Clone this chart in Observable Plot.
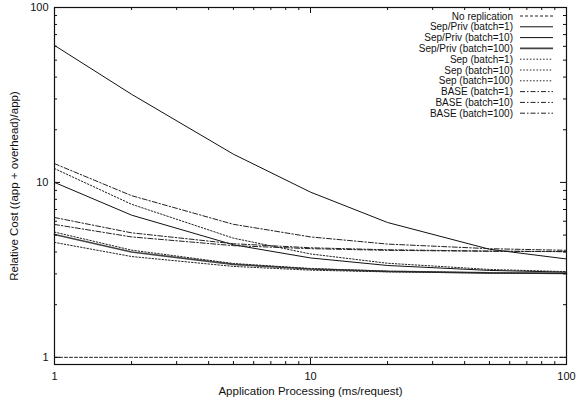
<!DOCTYPE html>
<html><head><meta charset="utf-8">
<script src="https://cdn.jsdelivr.net/npm/d3@7"></script>
<script src="https://cdn.jsdelivr.net/npm/@observablehq/plot@0.6"></script>
<style>
body{margin:0;background:#fff;}
#wrap{position:relative;width:585px;height:403px;font-family:"Liberation Sans",Arial,Helvetica,sans-serif;}
#wrap svg{display:block;}
#legend{position:absolute;left:0;top:0;pointer-events:none;}
</style></head><body><div id="wrap"></div>
<script>
// ---- data ----
const xValues = [1, 2, 5, 10, 20, 50, 100];
const seriesNames = [
  "No replication",
  "Sep/Priv (batch=1)", "Sep/Priv (batch=10)", "Sep/Priv (batch=100)",
  "Sep (batch=1)", "Sep (batch=10)", "Sep (batch=100)",
  "BASE (batch=1)", "BASE (batch=10)", "BASE (batch=100)"
];
const noReplication = [1, 1, 1, 1, 1, 1, 1];
const sepPriv1   = [60.7, 31.9, 14.5, 8.8, 5.9, 4.15, 3.65];
const sepPriv10  = [10.0, 6.5, 4.4, 3.7, 3.35, 3.14, 3.07];
const sepPriv100 = [5.04, 4.0, 3.4, 3.2, 3.1, 3.04, 3.02];
const sep1   = [12.0, 7.5, 4.8, 3.9, 3.45, 3.18, 3.09];
const sep10  = [5.2, 4.1, 3.44, 3.22, 3.11, 3.04, 3.02];
const sep100 = [4.54, 3.77, 3.31, 3.15, 3.08, 3.03, 3.02];
const base1   = [12.8, 8.4, 5.76, 4.88, 4.44, 4.18, 4.09];
const base10  = [6.3, 5.15, 4.46, 4.23, 4.12, 4.05, 4.02];
const base100 = [5.75, 4.88, 4.35, 4.18, 4.09, 4.04, 4.02];
const seriesValues = [noReplication, sepPriv1, sepPriv10, sepPriv100, sep1, sep10, sep100, base1, base10, base100];
const xTickLabels = [1, 10, 100];
const yTickLabels = [1, 10, 100];
const xMinorTicks = [2,3,4,5,6,7,8,9,20,30,40,50,60,70,80,90];
const yMinorTicks = [2,3,4,5,6,7,8,9,20,30,40,50,60,70,80,90];
const xTitle = "Application Processing (ms/request)";
const yTitle = "Relative Cost ((app + overhead)/app)";

// ---- styles ----
const styles = [
  {stroke:"#222", sw:1, dash:"3,2"},
  {stroke:"#111", sw:1, dash:null},
  {stroke:"#111", sw:1, dash:null},
  {stroke:"#444", sw:1.6, dash:null},
  {stroke:"#222", sw:1, dash:"1.5,1.8"},
  {stroke:"#222", sw:1, dash:"1.5,1.8"},
  {stroke:"#222", sw:1, dash:"1.5,1.8"},
  {stroke:"#222", sw:1, dash:"5,2,1.5,2"},
  {stroke:"#222", sw:1, dash:"5,2,1.5,2"},
  {stroke:"#222", sw:1, dash:"5,2,1.5,2"}
];

const W = 585, H = 403, mL = 54, mR = 19, mT = 7, mB = 39;
const plotW = W - mL - mR, plotH = H - mT - mB;
const majorLen = 6, minorLen = 3;
const FONT = "'Liberation Sans', Arial, Helvetica, sans-serif";

const lineMarks = seriesNames.map((name, i) => {
  const rows = xValues.map((x, j) => ({x, y: seriesValues[i][j], series: name}));
  return Plot.line(rows, {x: "x", y: "y", stroke: styles[i].stroke, strokeWidth: styles[i].sw,
    strokeDasharray: styles[i].dash || undefined, strokeLinejoin: "miter"});
});

const chart = Plot.plot({
  width: W, height: H,
  marginLeft: mL, marginRight: mR, marginTop: mT, marginBottom: mB,
  style: {fontFamily: FONT, fontSize: "11px", background: "white", color: "#111"},
  x: {type: "log", domain: [1, 100]},
  y: {type: "log", domain: [0.91, 100]},
  marks: [
    ...lineMarks,
    // inward ticks, all four sides
    Plot.tickX(xTickLabels, {x: d => d, insetTop: plotH - majorLen, stroke: "#111"}),
    Plot.tickX(xTickLabels, {x: d => d, insetBottom: plotH - majorLen, stroke: "#111"}),
    Plot.tickX(xMinorTicks, {x: d => d, insetTop: plotH - minorLen, stroke: "#111"}),
    Plot.tickX(xMinorTicks, {x: d => d, insetBottom: plotH - minorLen, stroke: "#111"}),
    Plot.tickY(yTickLabels, {y: d => d, insetRight: plotW - majorLen, stroke: "#111"}),
    Plot.tickY(yTickLabels, {y: d => d, insetLeft: plotW - majorLen, stroke: "#111"}),
    Plot.tickY(yMinorTicks, {y: d => d, insetRight: plotW - minorLen, stroke: "#111"}),
    Plot.tickY(yMinorTicks, {y: d => d, insetLeft: plotW - minorLen, stroke: "#111"}),
    Plot.frame({stroke: "#111", strokeWidth: 1.2}),
    Plot.axisX({ticks: xTickLabels, tickSize: 0, tickPadding: 8, tickFormat: d => String(d), label: null, fontSize: 11, fill: "#111"}),
    Plot.axisY({ticks: yTickLabels, tickSize: 0, tickPadding: 6, tickFormat: d => String(d), label: null, fontSize: 11, fill: "#111"}),
    Plot.text([xTitle], {text: d => d, frameAnchor: "bottom", textAnchor: "middle", dy: 30, fontSize: 11.5, fill: "#111"}),
    Plot.text([yTitle], {text: d => d, frameAnchor: "left", textAnchor: "middle", dx: -40, rotate: -90, fontSize: 11.5, fill: "#111"})
  ]
});
const wrap = document.getElementById("wrap");
wrap.appendChild(chart);

// ---- legend (inside top-right of the frame) ----
const lg = d3.select(wrap).append("svg").attr("id", "legend").attr("width", W).attr("height", H);
const textRight = 513, lineX1 = 520, lineX2 = 553, row0 = 16, rowStep = 10.8;
seriesNames.forEach((name, i) => {
  const y = row0 + i * rowStep;
  lg.append("text").attr("x", textRight).attr("y", y).attr("dy", "0.35em")
    .attr("text-anchor", "end").attr("font-size", 10)
    .attr("font-family", FONT).attr("fill", "#111").text(name);
  lg.append("line").attr("x1", lineX1).attr("x2", lineX2).attr("y1", y).attr("y2", y)
    .attr("stroke", styles[i].stroke).attr("stroke-width", styles[i].sw)
    .attr("stroke-dasharray", styles[i].dash);
});
</script></body></html>
